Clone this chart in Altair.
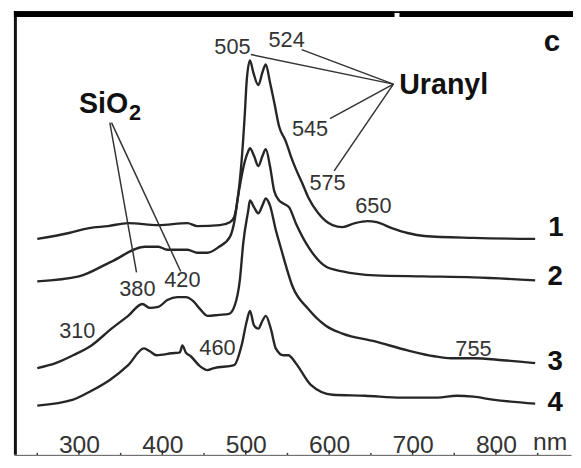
import altair as alt
import pandas as pd

# ---------------- data (wavelength nm, relative intensity a.u., curves offset) -------------
c1_nm = [250, 288, 312, 335, 359, 395, 430, 442, 469, 481, 486, 490, 495, 499, 501, 505, 509, 515,
         520, 524, 529, 534, 540, 548, 554, 560, 568, 575, 587, 604, 616, 631, 646, 657, 675, 694,
         714, 773, 847]
c1_v = [228, 234, 239, 241, 244, 242, 244, 241, 242, 245, 250, 267, 307, 357, 387, 409, 397, 384,
        397, 405, 387, 367, 342, 327, 312, 299, 284, 270, 254, 242, 240, 244, 246, 245, 239, 234,
        231, 229, 228]

c2_nm = [250, 300, 339, 379, 395, 406, 430, 442, 454, 468, 481, 487, 490, 494, 499, 503, 505, 510,
         515, 520, 524, 529, 534, 540, 545, 552, 560, 575, 596, 616, 655, 714, 773, 847]
c2_v = [185, 190, 205, 220, 220, 217, 217, 214, 214, 220, 230, 249, 267, 287, 307, 317, 320, 312,
        302, 312, 319, 302, 277, 267, 264, 260, 244, 220, 200, 195, 191, 190, 189, 186]

c3_nm = [250, 272, 293, 315, 339, 359, 376, 385, 395, 406, 418, 428, 437, 445, 454, 468, 480, 487,
         493, 497, 503, 505, 510, 515, 520, 524, 529, 536, 541, 545, 556, 575, 596, 616, 655, 694,
         726, 746, 773, 808, 847]
c3_v = [97, 102, 110, 120, 137, 150, 162, 158, 159, 166, 169, 169, 165, 157, 150, 151, 152, 161,
        187, 224, 257, 267, 260, 254, 262, 269, 262, 237, 222, 210, 180, 157, 140, 132, 124, 115,
        109, 107, 107, 105, 102]

c4_nm = [250, 293, 315, 337, 359, 378, 385, 393, 411, 421, 424, 428, 434, 445, 454, 462, 486, 495,
         501, 505, 510, 515, 520, 524, 530, 536, 545, 551, 560, 578, 604, 643, 687, 730, 753, 773,
         796, 847]
c4_v = [59, 65, 74, 85, 100, 117, 114, 110, 112, 113, 120, 113, 109, 99, 95, 97, 100, 120,
        144, 155, 140, 137, 145, 150, 137, 117, 110, 110, 102, 80, 70, 69, 67, 67, 69, 68,
        65, 61]

# axis
major_ticks = [300, 400, 500, 600, 700, 800]
minor_ticks = [250, 350, 450, 550, 650, 750, 850]

# peak annotations
peak_text = ["505", "524", "545", "575", "650", "380", "420", "310", "460", "755"]
peak_nm = [484, 549, 577, 598, 653, 370, 424, 298, 466, 773]
peak_v = [423, 430, 339, 285, 261, 177, 186, 135, 117, 116]

# curve numbers
num_text = ["1", "2", "3", "4"]
num_nm = [872, 871, 871, 871]
num_v = [239, 189, 103, 61]

# leader lines (from group label to peak label)
lead_x1 = [677, 677, 677, 677, 337, 339]
lead_y1 = [385, 385, 385, 385, 346, 346]
lead_x2 = [506, 567, 601, 606, 369, 422]
lead_y2 = [415, 420, 350, 297, 194, 195]

# ---------------- build ----------------
W, H = 565, 447
FONT = "Liberation Sans"
xscale = alt.Scale(domain=[222, 890], nice=False, zero=False)
yscale = alt.Scale(domain=[9, 456], nice=False, zero=False)

rows = []
for name, xs, ys in [("1", c1_nm, c1_v), ("2", c2_nm, c2_v), ("3", c3_nm, c3_v), ("4", c4_nm, c4_v)]:
    for a, b in zip(xs, ys):
        rows.append({"curve": name, "nm": a, "v": b})
curves = pd.DataFrame(rows)

x_axis = alt.Axis(values=major_ticks, labelFontSize=25, labelFont=FONT, labelColor="#333",
                  ticks=False, tickSize=0, domain=True, domainColor="#555", domainWidth=1,
                  grid=False, title=None, labelPadding=-10, labelBaseline="middle",
                  labelFlush=False, labelOverlap=False)


def xq(f="nm"):
    return alt.X(f"{f}:Q", scale=xscale, axis=x_axis, title=None)


def yq(f="v"):
    return alt.Y(f"{f}:Q", scale=yscale, axis=None)


lines = alt.Chart(curves).mark_line(color="#262626", strokeWidth=2.4, interpolate="monotone").encode(
    x=xq("nm"), y=yq("v"), detail="curve:N")

maj = alt.Chart(pd.DataFrame({"t": major_ticks})).mark_rule(color="#333", strokeWidth=1.5).encode(
    x=xq("t"), y=alt.value(H - 5), y2=alt.value(H))
mino = alt.Chart(pd.DataFrame({"t": minor_ticks})).mark_rule(color="#333", strokeWidth=1.5).encode(
    x=xq("t"), y=alt.value(H - 2), y2=alt.value(H))

peaks = alt.Chart(pd.DataFrame({"nm": peak_nm, "v": peak_v, "label": peak_text})).mark_text(
    font=FONT, fontSize=22, color="#333", align="center", baseline="middle").encode(
    x=xq(), y=yq(), text="label:N")

nums = alt.Chart(pd.DataFrame({"nm": num_nm, "v": num_v, "label": num_text})).mark_text(
    font=FONT, fontSize=28, fontWeight="bold", color="#111", align="center", baseline="middle").encode(
    x=xq(), y=yq(), text="label:N")

leads = alt.Chart(pd.DataFrame({"x1": lead_x1, "y1": lead_y1, "x2": lead_x2, "y2": lead_y2})).mark_rule(
    color="#333", strokeWidth=1.5).encode(x=xq("x1"), y=yq("y1"), x2="x2:Q", y2="y2:Q")

uranyl = alt.Chart(pd.DataFrame({"nm": [684], "v": [375], "label": ["Uranyl"]})).mark_text(
    font=FONT, fontSize=29, fontWeight="bold", color="#111", align="left", baseline="alphabetic").encode(
    x=xq(), y=yq(), text="label:N")
sio = alt.Chart(pd.DataFrame({"nm": [300], "v": [356], "label": ["SiO"]})).mark_text(
    font=FONT, fontSize=29, fontWeight="bold", color="#111", align="left", baseline="alphabetic").encode(
    x=xq(), y=yq(), text="label:N")
sub2 = alt.Chart(pd.DataFrame({"nm": [360], "v": [349], "label": ["2"]})).mark_text(
    font=FONT, fontSize=22, fontWeight="bold", color="#111", align="left", baseline="alphabetic").encode(
    x=xq(), y=yq(), text="label:N")
cpan = alt.Chart(pd.DataFrame({"nm": [867], "v": [419], "label": ["c"]})).mark_text(
    font=FONT, fontSize=30, fontWeight="bold", color="#111", align="center", baseline="alphabetic").encode(
    x=xq(), y=yq(), text="label:N")
nmlab = alt.Chart(pd.DataFrame({"nm": [865], "v": [22], "label": ["nm"]})).mark_text(
    font=FONT, fontSize=25, color="#333", align="center", baseline="middle").encode(
    x=xq(), y=yq(), text="label:N")

one = pd.DataFrame({"a": [0]})
left_border = alt.Chart(one).mark_rule(color="#111", strokeWidth=3).encode(
    x=alt.value(1.5), y=alt.value(-3), y2=alt.value(H))
top_a = alt.Chart(one).mark_rule(color="#000", strokeWidth=6).encode(
    x=alt.value(0), x2=alt.value(386), y=alt.value(0))
top_b = alt.Chart(one).mark_rule(color="#000", strokeWidth=6).encode(
    x=alt.value(391), x2=alt.value(W + 2), y=alt.value(0))
top_thin = alt.Chart(one).mark_rule(color="#000", strokeWidth=2).encode(
    x=alt.value(0), x2=alt.value(W + 2), y=alt.value(-2))

chart = alt.layer(
    lines, maj, mino, leads, peaks, nums, uranyl, sio, sub2, cpan, nmlab,
    left_border, top_a, top_b, top_thin
).properties(
    width=W, height=H,
    padding={"left": 6, "top": 3, "right": 2, "bottom": 0},
    autosize=alt.AutoSizeParams(type="none"),
    background="white",
).configure_view(stroke=None)

chart.save("out.html", embed_options={"renderer": "svg", "actions": False})
